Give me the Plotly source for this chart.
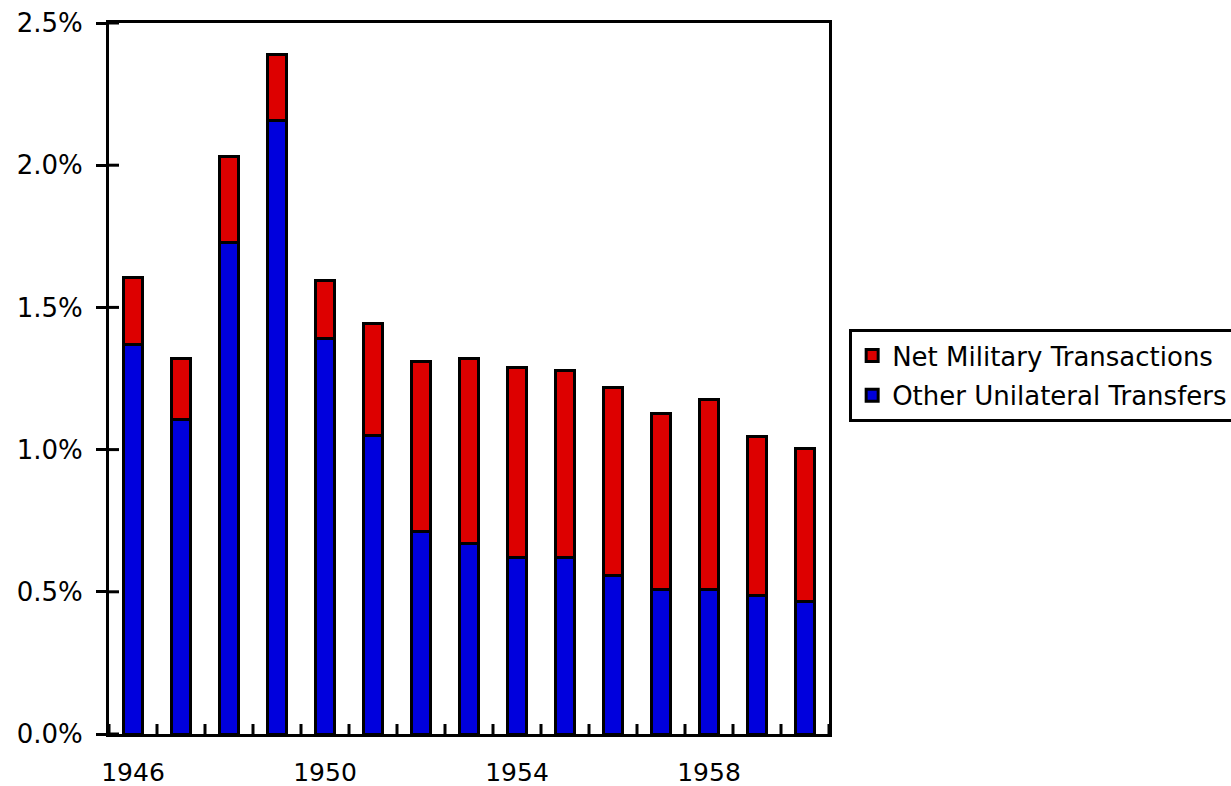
import plotly.graph_objects as go

years = list(range(1946, 1961))
other_transfers = [1.370, 1.106, 1.728, 2.156, 1.392, 1.048, 0.711, 0.670,
                   0.619, 0.619, 0.557, 0.509, 0.509, 0.487, 0.465]
net_military = [0.236, 0.215, 0.303, 0.232, 0.204, 0.396, 0.600, 0.651,
                0.671, 0.660, 0.662, 0.618, 0.668, 0.559, 0.539]
x_tick_years = [1946, 1950, 1954, 1958]
y_ticks = [0.0, 0.5, 1.0, 1.5, 2.0, 2.5]

RED = "#DD0000"
BLUE = "#0000DD"
FONT = "DejaVu Sans"

fig = go.Figure()
fig.add_trace(go.Bar(x=years, y=other_transfers, name="Other Unilateral Transfers",
                     marker=dict(color=BLUE, line=dict(color="black", width=3)),
                     width=0.4, legendrank=2, legendgroup="other"))
fig.add_trace(go.Bar(x=years, y=net_military, name="Net Military Transactions",
                     marker=dict(color=RED, line=dict(color="black", width=3)),
                     width=0.4, legendrank=1, legendgroup="mil"))

x0 = years[0] - 0.5
x1 = years[-1] + 0.5
shapes = []
# inside halves of crossing ticks on the x axis at category boundaries
for i in range(len(years) + 1):
    b = x0 + i
    shapes.append(dict(type="line", xref="x", yref="y", x0=b, x1=b,
                       ysizemode="pixel", yanchor=0, y0=-10, y1=10,
                       line=dict(color="black", width=3)))
# inside halves of crossing ticks on the y axis
for v in y_ticks:
    shapes.append(dict(type="line", xref="x", yref="y", y0=v, y1=v,
                       xsizemode="pixel", xanchor=x0, x0=-10, x1=10,
                       line=dict(color="black", width=3)))

fig.update_layout(
    barmode="stack",
    width=1231, height=786,
    margin=dict(l=109, r=402, t=23, b=52, autoexpand=False),
    paper_bgcolor="white", plot_bgcolor="white",
    font=dict(family=FONT, color="black", size=26),
    showlegend=True,
    legend=dict(x=1.028, xanchor="left", y=0.504, yanchor="middle",
                traceorder="grouped", tracegroupgap=3,
                bordercolor="black", borderwidth=3,
                font=dict(family=FONT, size=26, color="black"),
                bgcolor="white"),
    shapes=shapes,
    xaxis=dict(range=[x0, x1], tickmode="array", tickvals=x_tick_years,
               ticktext=[str(y) for y in x_tick_years],
               ticks="outside", ticklen=10, tickcolor="rgba(0,0,0,0)",
               ticklabelstandoff=4,
               showline=True, linewidth=3, linecolor="black", mirror=True,
               showgrid=False, zeroline=False,
               tickfont=dict(family=FONT, size=25, color="black")),
    yaxis=dict(range=[0, 2.5], tickmode="array", tickvals=y_ticks,
               ticktext=[f"{v:.1f}%" for v in y_ticks],
               ticks="outside", ticklen=10, tickwidth=3, tickcolor="black",
               ticklabelstandoff=8,
               showline=True, linewidth=3, linecolor="black", mirror=True,
               showgrid=False, zeroline=False,
               tickfont=dict(family=FONT, size=26, color="black")),
)

fig.write_html("out.html", config={"displayModeBar": False},
               post_script="document.body.style.margin='0';document.body.style.overflow='hidden';")
